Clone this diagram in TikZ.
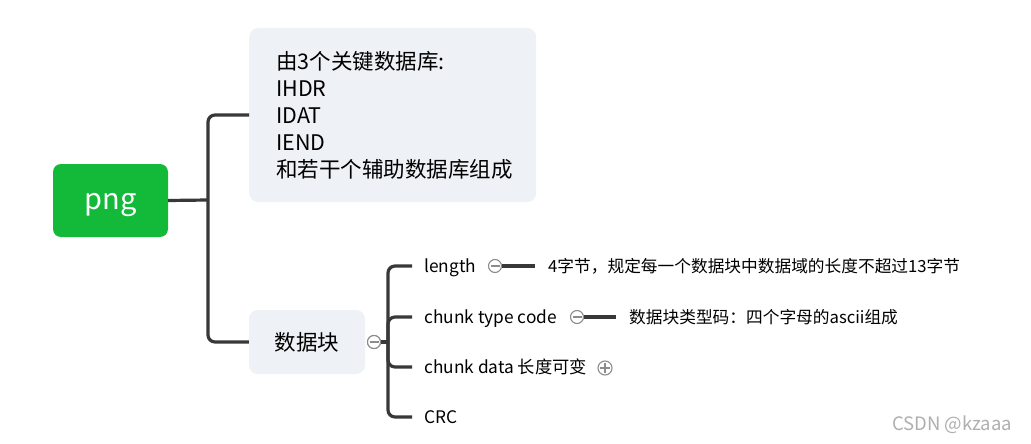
\documentclass[tikz,border=0pt]{standalone}
\usepackage{fontspec}
\setmainfont{Noto Sans CJK SC}
\definecolor{pnggreen}{RGB}{19,186,58}
\definecolor{boxgray}{RGB}{238,241,245}
\definecolor{linegray}{RGB}{56,56,56}
\definecolor{circgray}{RGB}{140,140,140}
\definecolor{wmgray}{RGB}{175,175,175}
\begin{document}
\begin{tikzpicture}[x=1pt,y=-1pt,
  rootbox/.style={fill=pnggreen, rounded corners=8pt, text=white, inner sep=0pt, text height=21pt, text depth=3pt,
    minimum width=115pt, minimum height=73pt, font=\fontsize{29}{32}\selectfont},
  topicbox/.style={fill=boxgray, rounded corners=9pt, inner sep=0pt,
    font=\fontsize{21.5}{27}\selectfont},
  leaf/.style={anchor=west, inner xsep=12pt, inner ysep=0pt, text depth=2pt, text height=15pt, font=\fontsize{17.3}{20}\selectfont},
  note/.style={anchor=west, inner xsep=13pt, inner ysep=0pt, text depth=2pt, text height=15pt, font=\fontsize{16.7}{20}\selectfont},
  conn/.style={draw=linegray, line width=3.2pt, rounded corners=7pt},
  minusc/.style={circle, draw=circgray, fill=white, line width=1.1pt, minimum size=13pt, inner sep=0pt,
    path picture={\draw[circgray, line width=1.1pt] ([xshift=-4.5pt]path picture bounding box.center) -- ([xshift=4.5pt]path picture bounding box.center);}},
  plusc/.style={circle, draw=circgray, fill=white, line width=1.1pt, minimum size=14pt, inner sep=0pt,
    path picture={\draw[circgray, line width=1.1pt] ([xshift=-5pt]path picture bounding box.center) -- ([xshift=5pt]path picture bounding box.center)
      ([yshift=-5pt]path picture bounding box.center) -- ([yshift=5pt]path picture bounding box.center);}}
]
\useasboundingbox (0,0) rectangle (1031,444);
\fill[white] (0,0) rectangle (1031,444);

% root
\node[rootbox] (png) at (110.5,200.5) {png};

% first level
\node[topicbox, anchor=west, minimum height=174pt, text width=233pt, inner xsep=27pt, align=left] (info) at (249,115)
  {由3个关键数据库:\\IHDR\\IDAT\\IEND\\和若干个辅助数据库组成};
\node[topicbox, minimum width=116pt, minimum height=64pt] (blk) at (307,342) {数据块};

\coordinate (t1) at (208,200);
\draw[conn] (png.east) -- (t1);
\draw[conn] (info.west) -| (t1) |- (blk.west);

% second level
\node[minusc] (c0) at (374,342) {};
\coordinate (t2) at (388,342);
\node[leaf] (len) at (412,266) {length};
\node[leaf] (ctc) at (412,317) {chunk type code};
\node[leaf] (cd)  at (412,367) {chunk data 长度可变};
\node[leaf] (crc) at (412,417) {CRC};

\draw[conn] (c0.east) -- (t2);
\draw[conn] (t2) |- (len.west);
\draw[conn] (t2) |- (ctc.west);
\draw[conn] (t2) |- (cd.west);
\draw[conn] (t2) |- (crc.west);
\node[minusc] at (374,342) {};

% third level
\node[minusc] (c1) at (495,266) {};
\node[note] (d1) at (535,266) {4字节，规定每一个数据块中数据域的长度不超过13字节};
\draw[conn] (c1.east) -- (d1.west);

\node[minusc] (c2) at (577,317) {};
\node[note] (d2) at (616,317) {数据块类型码：四个字母的ascii组成};
\draw[conn] (c2.east) -- (d2.west);

\node[plusc] (c3) at (605,368) {};

% watermark
\node[anchor=west, inner sep=0pt, text=wmgray, font=\fontsize{18.5}{20}\selectfont] (wm) at (892,425) {CSDN @kzaaa};
\end{tikzpicture}
\end{document}
